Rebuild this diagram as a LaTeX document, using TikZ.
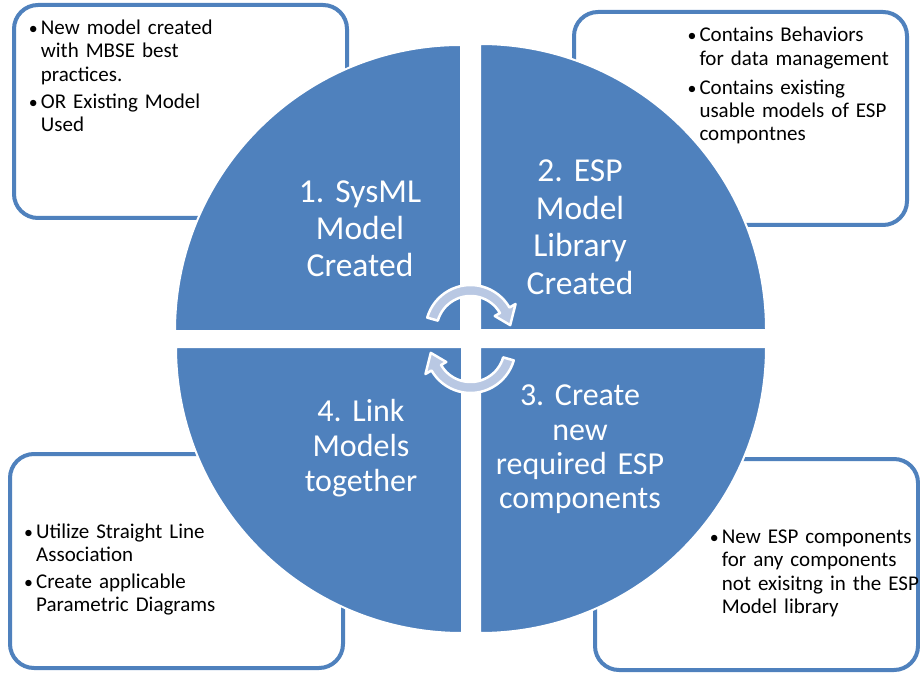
\documentclass[tikz,border=0pt]{standalone}
\usepackage{fontspec}
\setmainfont{Carlito}
\frenchspacing
\definecolor{qblue}{RGB}{79,129,189}
\definecolor{arrfill}{RGB}{185,200,227}
\newcommand{\bul}{\makebox[11pt][l]{\hspace{-1pt}\scalebox{0.85}{\textbullet}}}
\newcommand{\bitem}[1]{\hangindent=11pt\hangafter=1\noindent\bul#1\par}
\begin{document}
\begin{tikzpicture}[x=1pt,y=1pt,
  callout/.style={draw=qblue, line width=4pt, fill=white, rounded corners=24pt},
  quad/.style={fill=qblue, draw=white, line width=2pt},
  cyc/.style={fill=arrfill, draw=white, line width=2.5pt, line join=round},
  btext/.style={anchor=north west, inner sep=0pt, text width=320pt,
    font=\fontsize{21}{23.4}\selectfont, text=black},
  qtext/.style={anchor=north, inner sep=0pt, text width=260pt, align=center, text=white}]
\useasboundingbox (0,0) rectangle (920,673);
% callout boxes
\draw[callout] (14,455) rectangle (347,668);
\draw[callout] (574,448) rectangle (907,661);
\draw[callout] (10,5) rectangle (343,219);
\draw[callout] (595,3) rectangle (918,214);
% quadrants
\draw[quad] (461,342) -- (175,342) arc[start angle=180,end angle=90,radius=286] -- cycle;
\draw[quad] (480,343) -- (480,629) arc[start angle=90,end angle=0,radius=286] -- cycle;
\draw[quad] (480,326) -- (766,326) arc[start angle=0,end angle=-90,radius=286] -- cycle;
\draw[quad] (462,326) -- (462,40) arc[start angle=-90,end angle=-180,radius=286] -- cycle;
% circular arrows
\coordinate (ctop) at (470.5,343);
\coordinate (cbot) at (470.5,325);
\begin{scope}[shift={(ctop)}]
\draw[cyc] (164:45) arc[start angle=164,end angle=30,radius=45] -- (30:52) -- (7:40) -- (30:28) -- (30:34) arc[start angle=30,end angle=164,radius=34] -- cycle;
\end{scope}
\begin{scope}[shift={(cbot)}]
\draw[cyc] (344:45) arc[start angle=344,end angle=210,radius=45] -- (210:52) -- (187:40) -- (210:28) -- (210:34) arc[start angle=210,end angle=344,radius=34] -- cycle;
\end{scope}
% quadrant labels
\node[qtext, font=\fontsize{33.5}{37}\selectfont] (q1) at (360,496.3) {\rule{0pt}{26pt}1. SysML\\Model\\Created};
\node[qtext, font=\fontsize{33.5}{37.5}\selectfont] (q2) at (580,517.3) {\rule{0pt}{26pt}2. ESP\\Model\\Library\\Created};
\node[qtext, font=\fontsize{32}{34.2}\selectfont] (q3) at (580,293.3) {\rule{0pt}{26pt}3. Create\\new\\required ESP\\components};
\node[qtext, font=\fontsize{32}{35}\selectfont] (q4) at (361,277.3) {\rule{0pt}{26pt}4. Link\\Models\\together};
% callout texts
\node[btext] (t1) at (29.7,654.7) {\raggedright\setlength{\parskip}{3.6pt}%
\bitem{\rule{0pt}{16pt}New model created\newline with MBSE best\newline practices.}%
\bitem{OR Existing Model\newline Used}};
\node[btext] (t2) at (688.3,647.3) {\raggedright\setlength{\parskip}{5.5pt}%
\bitem{\rule{0pt}{16pt}Contains Behaviors\newline for data management}%
\bitem{Contains existing\newline usable models of ESP\newline compontnes}};
\node[btext] (t3) at (25,150.7) {\raggedright\setlength{\parskip}{3.2pt}%
\bitem{\rule{0pt}{16pt}Utilize Straight Line\newline Association}%
\bitem{Create applicable\newline Parametric Diagrams}};
\node[btext] (t4) at (710.7,145.7) {\raggedright\setlength{\parskip}{3.2pt}%
\bitem{\rule{0pt}{16pt}New ESP components\newline for any components\newline not exisitng in the ESP\newline Model library}};
\end{tikzpicture}
\end{document}
